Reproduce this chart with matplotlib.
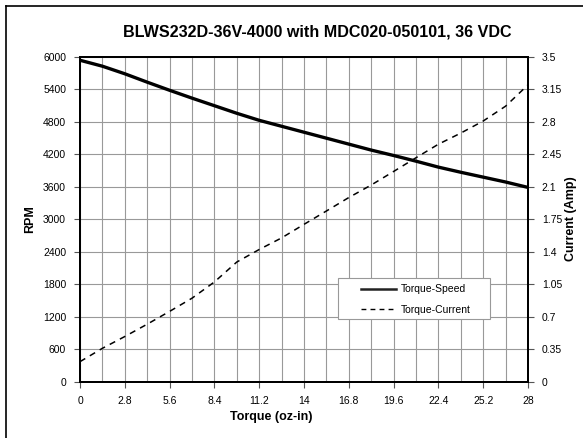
import matplotlib
matplotlib.use("Agg")
import matplotlib.pyplot as plt
from matplotlib.lines import Line2D
from matplotlib.patches import Rectangle

plt.rcParams['font.family'] = ['Liberation Sans', 'DejaVu Sans']

torque = [0, 1.4, 2.8, 4.2, 5.6, 7.0, 8.4, 9.8, 11.2, 12.6, 14.0, 15.4, 16.8,
          18.2, 19.6, 21.0, 22.4, 23.8, 25.2, 26.6, 28.0]
speed_rpm = [5940, 5830, 5690, 5535, 5385, 5240, 5100, 4960, 4830, 4720, 4610,
             4500, 4390, 4280, 4180, 4075, 3965, 3870, 3780, 3690, 3590]
current_amp = [0.216, 0.36, 0.487, 0.62, 0.758, 0.90, 1.075, 1.29, 1.425, 1.55,
               1.696, 1.84, 1.985, 2.12, 2.266, 2.414, 2.56, 2.68, 2.81, 2.97, 3.2]

x_ticks = [0, 2.8, 5.6, 8.4, 11.2, 14, 16.8, 19.6, 22.4, 25.2, 28]
x_tick_labels = ["0", "2.8", "5.6", "8.4", "11.2", "14", "16.8", "19.6", "22.4", "25.2", "28"]
rpm_ticks = [0, 600, 1200, 1800, 2400, 3000, 3600, 4200, 4800, 5400, 6000]
amp_ticks = [0, 0.35, 0.7, 1.05, 1.4, 1.75, 2.1, 2.45, 2.8, 3.15, 3.5]
amp_tick_labels = ["0", "0.35", "0.7", "1.05", "1.4", "1.75", "2.1", "2.45", "2.8", "3.15", "3.5"]

title = "BLWS232D-36V-4000 with MDC020-050101, 36 VDC"

W, H = 583, 438
fig = plt.figure(figsize=(5.83, 4.38), dpi=100)
ax = fig.add_axes([80/W, 1-381.7/H, 448/W, 324.7/H])
ax2 = ax.twinx()

ax.set_xlim(0, 28)
ax.set_ylim(0, 6000)
ax2.set_ylim(0, 3.5)
minor_x = [i * 1.4 for i in range(21)]
for xv in minor_x:
    ax.axvline(xv, color='#999999', lw=0.8, zorder=0)
for yv in rpm_ticks:
    ax.axhline(yv, color='#999999', lw=0.8, zorder=0)

ax.plot(torque, speed_rpm, color='black', lw=2.4, solid_capstyle='butt', zorder=3)
ax2.plot(torque, current_amp, color='black', lw=1.1, dashes=(4, 3.5), zorder=3)

ax.set_xticks(x_ticks)
ax.set_xticklabels(x_tick_labels)
ax.set_yticks(rpm_ticks)
ax.set_yticklabels([str(v) for v in rpm_ticks])
ax2.set_yticks(amp_ticks)
ax2.set_yticklabels(amp_tick_labels)

for a in (ax, ax2):
    a.tick_params(direction='out', length=4, width=0.8, labelsize=7.5,
                  color='#555555', pad=6)
    for s in a.spines.values():
        s.set_linewidth(1.4)
        s.set_color('black')

fig.text(271/W, 1-417/H, "Torque (oz-in)", ha='center', va='center',
         fontsize=9, fontweight='bold')
fig.text(30/W, 1-219/H, "RPM", ha='center', va='center', rotation=90,
         fontsize=9, fontweight='bold')
fig.text(571/W, 1-219/H, "Current (Amp)", ha='center', va='center', rotation=90,
         fontsize=9, fontweight='bold')

fig.text(317/W, 1-32/H, title, ha='center', va='center',
         fontsize=11.6, fontweight='bold')

# legend frame
frame = Rectangle((338/W, 1-319/H), (490-338)/W, (319-278)/H,
                  transform=fig.transFigure, facecolor='white',
                  edgecolor='#999999', lw=0.8, zorder=4)
ax2.add_artist(frame)
frame.set_clip_on(False)

handles = [Line2D([], [], color='#222222', lw=1.8),
           Line2D([], [], color='black', lw=1.0, dashes=(3.5, 3))]
leg = ax2.legend(handles, ["Torque-Speed", "Torque-Current"],
                 loc='center left', bbox_to_anchor=(361/W, 1-299.5/H),
                 bbox_transform=fig.transFigure,
                 fontsize=7.5, frameon=False, borderaxespad=0, borderpad=0,
                 handlelength=3.4, handletextpad=0.4, labelspacing=1.0)
leg.set_zorder(5)
ax2.set_zorder(ax.get_zorder() + 1)
ax2.patch.set_visible(False)

fig.add_artist(Line2D([5.5/W, 5.5/W], [0, 1-5.5/H], color='black', lw=1.2,
                      transform=fig.transFigure))
fig.add_artist(Line2D([5.5/W, 1], [1-5.5/H, 1-5.5/H], color='black', lw=1.2,
                      transform=fig.transFigure))

fig.savefig("out.png", dpi=100)
